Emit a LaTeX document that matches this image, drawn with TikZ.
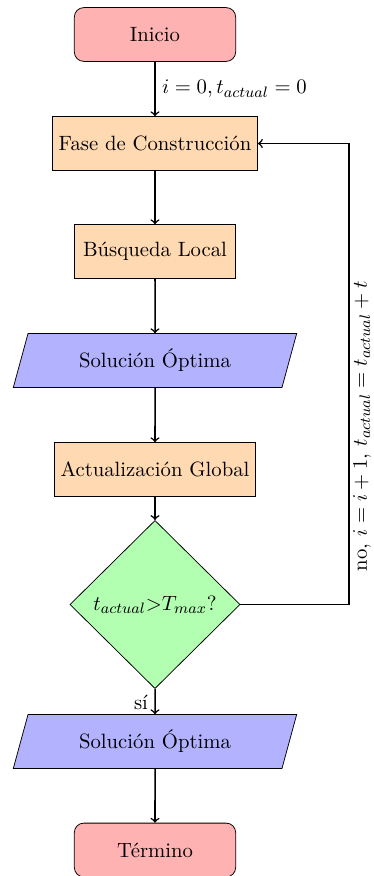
\documentclass[tikz,border=0pt]{standalone}
\usetikzlibrary{shapes.geometric}
\begin{document}
\begin{tikzpicture}[
  x=0.5291pt, y=-0.5291pt,
  font=\fontsize{10.95}{13.6}\selectfont,
  startstop/.style={rectangle, rounded corners=5pt, draw=black, fill=red!30,
    minimum width=3cm, minimum height=1cm, align=center},
  process/.style={rectangle, draw=black, fill=orange!30,
    minimum width=3cm, minimum height=1cm, align=center},
  io/.style={trapezium, trapezium left angle=75, trapezium right angle=105,
    trapezium stretches=true, draw=black, fill=blue!30,
    minimum width=150pt, minimum height=1cm, align=center},
  decision/.style={diamond, draw=black, fill=green!30,
    minimum width=90pt, minimum height=89pt, inner sep=0pt, align=center},
  arrow/.style={thick, ->}
]
\useasboundingbox (0,0) rectangle (373,876);

\node[startstop] (inicio) at (155,34.5) {Inicio};
\node[process]   (fase)   at (155,143.5) {Fase de Construcción};
\node[process]   (busq)   at (155,251.5) {Búsqueda Local};
\node[io]        (sol1)   at (155,360.5) {Solución Óptima};
\node[process]   (act)    at (155,469.5) {Actualización Global};
\node[decision]  (dec)    at (155,604.5) {$t_{actual}{>}T_{max}$?};
\node[io]        (sol2)   at (155,741.5) {Solución Óptima};
\node[startstop] (fin)    at (155,850) {Término};

\coordinate (loop) at (349,604.5);

\draw[arrow] (inicio) -- node[right] {$i=0, t_{actual}=0$} (fase);
\draw[arrow] (fase) -- (busq);
\draw[arrow] (busq) -- (sol1);
\draw[arrow] (sol1) -- (act);
\draw[arrow] (act) -- (dec);
\draw[arrow] (dec) -- node[left, pos=0.55] {sí} (sol2);
\draw[arrow] (sol2) -- (fin);
\draw[arrow] (dec.east) -- (loop) |- (fase.east);
\node[rotate=90] (lbl) at (362,426) {no, $i=i+1$, $t_{actual}=t_{actual}+t$};
\end{tikzpicture}
\end{document}
